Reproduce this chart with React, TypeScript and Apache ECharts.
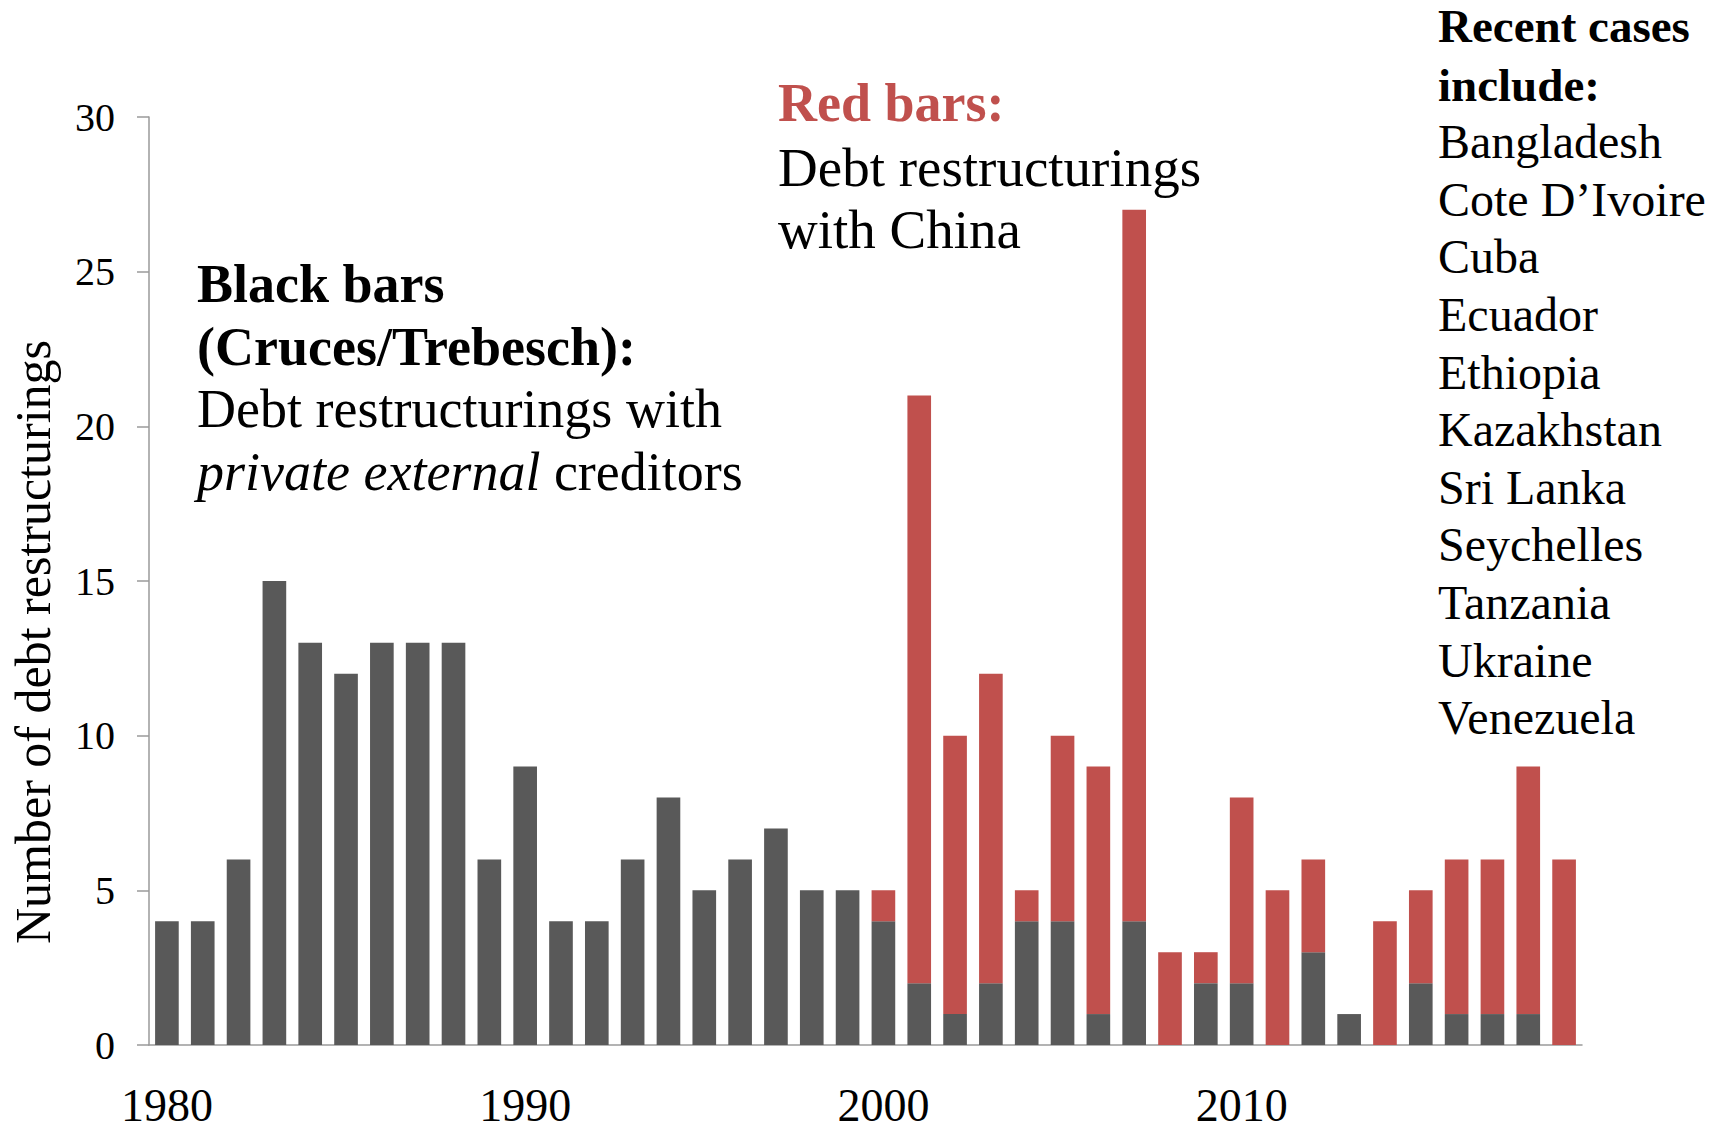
import React, { useEffect, useRef } from "react";
import * as echarts from "echarts";

// Years 1980–2019, one bar per year
const years: string[] = [
  "1980", "1981", "1982", "1983", "1984", "1985", "1986", "1987", "1988", "1989",
  "1990", "1991", "1992", "1993", "1994", "1995", "1996", "1997", "1998", "1999",
  "2000", "2001", "2002", "2003", "2004", "2005", "2006", "2007", "2008", "2009",
  "2010", "2011", "2012", "2013", "2014", "2015", "2016", "2017", "2018", "2019",
];

// Restructurings with private external creditors (Cruces/Trebesch)
const privateCreditors: number[] = [
  4, 4, 6, 15, 13, 12, 13, 13, 13, 6,
  9, 4, 4, 6, 8, 5, 6, 7, 5, 5,
  4, 2, 1, 2, 4, 4, 1, 4, 0, 2,
  2, 0, 3, 1, 0, 2, 1, 1, 1, 0,
];

// Restructurings with China
const chinaCreditor: number[] = [
  0, 0, 0, 0, 0, 0, 0, 0, 0, 0,
  0, 0, 0, 0, 0, 0, 0, 0, 0, 0,
  1, 19, 9, 10, 1, 6, 8, 23, 3, 1,
  6, 5, 3, 0, 4, 3, 5, 5, 8, 6,
];

const recentCases: string[] = [
  "Bangladesh", "Cote D\u2019Ivoire", "Cuba", "Ecuador", "Ethiopia", "Kazakhstan",
  "Sri Lanka", "Seychelles", "Tanzania", "Ukraine", "Venezuela",
];

const SERIF = '"Liberation Serif", "Times New Roman", serif';
const GREY = "#595959";
const RED = "#C0504D";
const AXIS = "#9a9a9a";

export default function App() {
  const ref = useRef<HTMLDivElement>(null);

  useEffect(() => {
    if (!ref.current) return;
    const chart = echarts.init(ref.current, undefined, { renderer: "svg" });

    const caseTexts = recentCases.map((name, i) => ({
      type: "text",
      x: 1438,
      y: 141.6 + i * 57.6,
      style: {
        text: name,
        font: `48px ${SERIF}`,
        fill: "#000",
        textAlign: "left",
        textVerticalAlign: "middle",
      },
    }));

    chart.setOption({
      animation: false,
      backgroundColor: "#fff",
      grid: { left: 149, right: 139, top: 117, bottom: 87, containLabel: false, outerBoundsMode: "none" },
      xAxis: {
        type: "category",
        data: years,
        axisLine: { lineStyle: { color: AXIS, width: 1.5 } },
        axisTick: {
          length: 15,
          interval: (i: number) => i % 10 === 0,
          lineStyle: { color: AXIS, width: 1.5 },
        },
        axisLabel: {
          interval: (i: number) => i % 10 === 0,
          fontFamily: SERIF,
          fontSize: 46,
          color: "#000",
          margin: 37,
        },
      },
      yAxis: {
        type: "value",
        min: 0,
        max: 30,
        interval: 5,
        splitLine: { show: false },
        axisLine: { show: true, lineStyle: { color: AXIS, width: 1.5 } },
        axisTick: { show: true, length: 12, lineStyle: { color: AXIS, width: 1.5 } },
        axisLabel: { fontFamily: SERIF, fontSize: 40, color: "#000", margin: 34 },
      },
      series: [
        {
          name: "Private external creditors",
          type: "bar",
          stack: "total",
          data: privateCreditors,
          barCategoryGap: "34%",
          itemStyle: { color: GREY },
        },
        {
          name: "China",
          type: "bar",
          stack: "total",
          data: chinaCreditor,
          barCategoryGap: "34%",
          itemStyle: { color: RED },
        },
      ],
      graphic: [
        {
          type: "text",
          x: 33,
          y: 642,
          rotation: Math.PI / 2,
          style: {
            text: "Number of debt restructurings",
            font: `50px ${SERIF}`,
            fill: "#000",
            textAlign: "center",
            textVerticalAlign: "middle",
          },
        },
        {
          type: "text",
          x: 197,
          y: 284,
          style: {
            text: "Black bars",
            font: `bold 54px ${SERIF}`,
            fill: "#000",
            textVerticalAlign: "middle",
          },
        },
        {
          type: "text",
          x: 197,
          y: 347,
          style: {
            text: "(Cruces/Trebesch):",
            font: `bold 54px ${SERIF}`,
            fill: "#000",
            textVerticalAlign: "middle",
          },
        },
        {
          type: "text",
          x: 197,
          y: 409,
          style: {
            text: "Debt restructurings with",
            font: `54px ${SERIF}`,
            fill: "#000",
            textVerticalAlign: "middle",
          },
        },
        {
          type: "text",
          x: 197,
          y: 472,
          style: {
            text: "{i|private external} creditors",
            font: `54px ${SERIF}`,
            fill: "#000",
            textVerticalAlign: "middle",
            rich: {
              i: { fontStyle: "italic", fontFamily: SERIF, fontSize: 54, fill: "#000" },
            },
          },
        },
        {
          type: "text",
          x: 778,
          y: 103,
          style: {
            text: "Red bars:",
            font: `bold 54px ${SERIF}`,
            fill: RED,
            textVerticalAlign: "middle",
          },
        },
        {
          type: "text",
          x: 778,
          y: 167,
          style: {
            text: "Debt restructurings",
            font: `55px ${SERIF}`,
            fill: "#000",
            textVerticalAlign: "middle",
          },
        },
        {
          type: "text",
          x: 778,
          y: 229,
          style: {
            text: "with China",
            font: `55px ${SERIF}`,
            fill: "#000",
            textVerticalAlign: "middle",
          },
        },
        {
          type: "text",
          x: 1438,
          y: 26,
          style: {
            text: "Recent cases",
            font: `bold 47px ${SERIF}`,
            fill: "#000",
            textVerticalAlign: "middle",
          },
        },
        {
          type: "text",
          x: 1438,
          y: 84.5,
          style: {
            text: "include:",
            font: `bold 47px ${SERIF}`,
            fill: "#000",
            textVerticalAlign: "middle",
          },
        },
        ...caseTexts,
      ],
    });

    return () => chart.dispose();
  }, []);

  return (
    <div
      ref={ref}
      style={{ position: "fixed", left: 0, top: 0, width: 1721, height: 1132, background: "#fff" }}
    />
  );
}
